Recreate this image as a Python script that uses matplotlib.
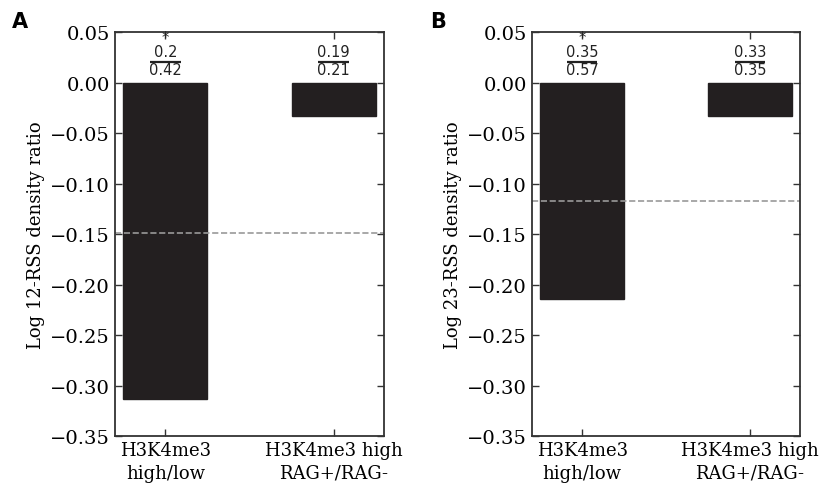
import numpy as np
import matplotlib
matplotlib.use("Agg")
import matplotlib.pyplot as plt

# data
categories = ["H3K4me3\nhigh/low", "H3K4me3 high\nRAG+/RAG-"]
ratio_12 = [-0.313, -0.033]
ratio_23 = [-0.214, -0.033]
baseline_12 = -0.149
baseline_23 = -0.117
num_12 = ["0.2", "0.19"]
den_12 = ["0.42", "0.21"]
num_23 = ["0.35", "0.33"]
den_23 = ["0.57", "0.35"]
signif = ["*", ""]

plt.rcParams['font.family'] = ['DejaVu Serif']

fig = plt.figure(figsize=(8.29, 4.89), dpi=100)
ax1 = fig.add_axes([0.1387, 0.106, 0.3245, 0.8265])
ax2 = fig.add_axes([0.6417, 0.106, 0.3235, 0.8265])


def fmt(v, p):
    s = f"{v:.2f}"
    if s == "-0.00":
        s = "0.00"
    return s.replace("-", "\u2212")


def panel(ax, vals, base, nums, dens, ylabel):
    x = np.arange(len(vals))
    ax.bar(x, vals, width=0.5, color='#231f20', edgecolor='#231f20')
    ax.axhline(base, color='#999999', ls='--', lw=1.2)
    ax.set_xlim(-0.3, 1.3)
    ax.set_ylim(-0.35, 0.05)
    ax.set_yticks(np.arange(-0.35, 0.051, 0.05))
    ax.yaxis.set_major_formatter(plt.FuncFormatter(fmt))
    ax.set_xticks(x)
    ax.set_xticklabels(categories, fontsize=13, linespacing=1.35)
    ax.tick_params(axis='y', labelsize=14)
    ax.tick_params(direction='in', top=True, right=True, length=5, width=1, color='#333333')
    ax.set_ylabel(ylabel, fontsize=13)
    for s in ax.spines.values():
        s.set_linewidth(1.3)
        s.set_color('#333333')
    for i in x:
        # star and numerator share one text block
        top = signif[i] + "\n" + nums[i] if signif[i] else nums[i]
        ax.text(i, 0.0232, top, ha='center', va='bottom', fontsize=10.5,
                linespacing=0.9, family='DejaVu Sans', color='#222222')
        ax.text(i, 0.0127, dens[i], ha='center', va='center', fontsize=10.5,
                family='DejaVu Sans', color='#222222')
        ax.plot([i - 0.09, i + 0.09], [0.0208, 0.0208], color='#222222', lw=1.6,
                solid_capstyle='butt')


panel(ax1, ratio_12, baseline_12, num_12, den_12, "Log 12-RSS density ratio")
panel(ax2, ratio_23, baseline_23, num_23, den_23, "Log 23-RSS density ratio")

fig.text(12 / 829, 1 - 22 / 489, "A", fontsize=15, fontweight='bold', family='DejaVu Sans', va='center')
fig.text(430 / 829, 1 - 22 / 489, "B", fontsize=15, fontweight='bold', family='DejaVu Sans', va='center')

fig.savefig("out.png", dpi=100)
